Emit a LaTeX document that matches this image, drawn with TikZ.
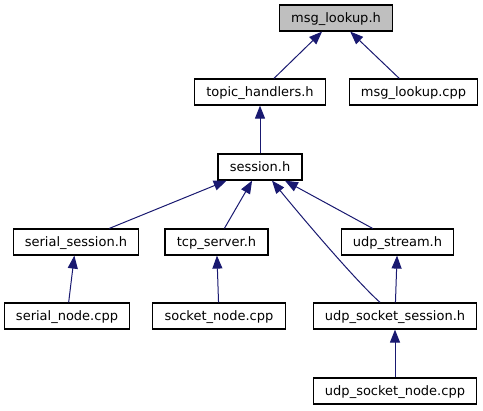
\documentclass[tikz,border=0pt]{standalone}
\usepackage{fontspec}
\setmainfont{DejaVu Sans}
\definecolor{EdgeBlue}{HTML}{191970}
\definecolor{RootGray}{HTML}{BFBFBF}
\usepackage{tikz}
\usetikzlibrary{arrows.meta, calc}

\begin{document}
\begin{tikzpicture}[
  x=1pt, y=-1pt,
  filebox/.style={draw=black, line width=1.2pt, fill=white, minimum height=26pt,
    inner xsep=11.75pt, inner ysep=0pt, text height=10pt, text depth=0.5pt,
    font=\fontsize{13}{15}\selectfont},
  incl/.style={draw=EdgeBlue, line width=1pt},
  >={Triangle[length=13pt, width=10pt]}
]
  \useasboundingbox (0,0) rectangle (483,411);

  \node[filebox, fill=RootGray] (msglookup) at (336,18) {msg\_lookup.h};
  \foreach \name/\x/\y/\txt in {
      topic/260/92/topic\_handlers.h,
      msgcpp/413.5/92/msg\_lookup.cpp,
      session/260/167/session.h,
      serialsession/76/242/serial\_session.h,
      tcpserver/216.5/242/tcp\_server.h,
      udpstream/397.5/242/udp\_stream.h,
      serialnode/67/316/serial\_node.cpp,
      socketnode/219/316/socket\_node.cpp,
      udpsocketsession/395/316/udp\_socket\_session.h,
      udpsocketnode/395/391/udp\_socket\_node.cpp}{
    \node[filebox] (\name) at (\x,\y) {\txt};
  }

  \foreach \from/\to in {topic/msglookup, msgcpp/msglookup, session/topic,
      serialsession/session, tcpserver/session, udpstream/session,
      serialnode/serialsession, socketnode/tcpserver,
      udpsocketsession/udpstream, udpsocketnode/udpsocketsession}
    \draw[->, incl] (\from) -- (\to);

  \draw[->, incl] ($(udpsocketsession.north)+(-15,0)$)
    .. controls (355,280) and (300,215) .. ($(session.south)+(12,0)$);
\end{tikzpicture}
\end{document}
